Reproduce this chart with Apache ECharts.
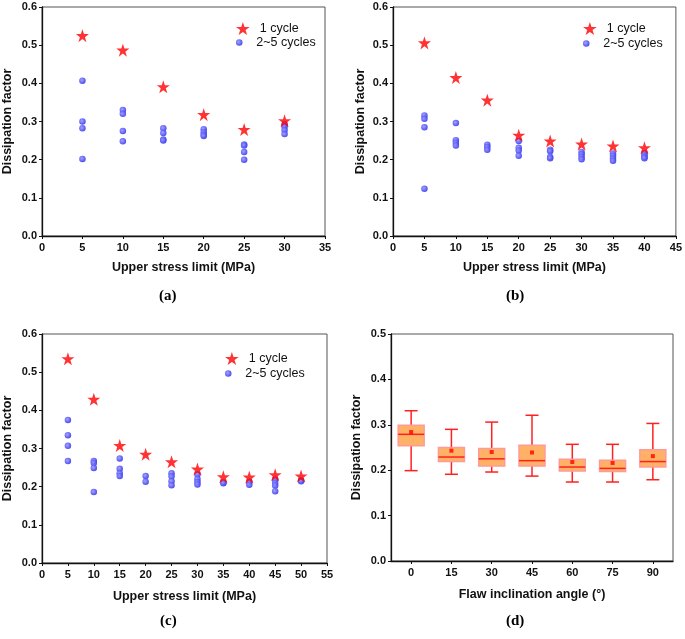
<!DOCTYPE html>
<html><head><meta charset="utf-8">
<script src="https://cdn.jsdelivr.net/npm/echarts@6/dist/echarts.min.js"></script>
<style>html,body{margin:0;padding:0;background:#fff}#c{width:685px;height:639px}</style>
</head><body><div id="c"></div>
<script>
// ---- Panel (a) ----
const aStarX = [5, 10, 15, 20, 25, 30];
const aStarY = [0.525, 0.487, 0.391, 0.318, 0.279, 0.302];
const aDotX = [5,5,5,5, 10,10,10,10, 15,15,15,15, 20,20,20,20, 25,25,25,25, 30,30,30,30];
const aDotY = [0.407,0.300,0.282,0.202, 0.330,0.320,0.275,0.248, 0.282,0.270,0.253,0.250, 0.280,0.272,0.265,0.262, 0.240,0.237,0.220,0.200, 0.293,0.287,0.278,0.267];
// ---- Panel (b) ----
const bStarX = [5, 10, 15, 20, 25, 30, 35, 40];
const bStarY = [0.506, 0.415, 0.356, 0.264, 0.249, 0.241, 0.236, 0.231];
const bDotX = [5,5,5,5, 10,10,10,10, 15,15,15, 20,20,20,20, 25,25,25,25, 30,30,30,30, 35,35,35,35, 40,40,40,40];
const bDotY = [0.316,0.307,0.285,0.124, 0.296,0.251,0.244,0.237, 0.239,0.233,0.226, 0.249,0.231,0.224,0.210, 0.226,0.222,0.207,0.204, 0.220,0.214,0.207,0.201, 0.216,0.210,0.203,0.197, 0.217,0.211,0.207,0.204];
// ---- Panel (c) ----
const cStarX = [5, 10, 15, 20, 25, 30, 35, 40, 45, 50];
const cStarY = [0.535, 0.429, 0.308, 0.285, 0.265, 0.246, 0.226, 0.225, 0.231, 0.228];
const cDotX = [5,5,5,5, 10,10,10,10, 15,15,15,15, 20,20, 25,25,25,25, 30,30,30,30, 35,35, 40,40, 45,45,45,45, 50,50];
const cDotY = [0.375,0.335,0.307,0.267, 0.267,0.262,0.249,0.186, 0.274,0.247,0.235,0.228, 0.228,0.213, 0.235,0.227,0.214,0.204, 0.232,0.220,0.212,0.206, 0.211,0.209, 0.213,0.205, 0.219,0.210,0.203,0.188, 0.216,0.214];
// ---- Panel (d) box plot ----
const dCats = ['0', '15', '30', '45', '60', '75', '90'];
const dMin    = [0.199, 0.191, 0.196, 0.187, 0.174, 0.174, 0.179];
const dQ1     = [0.254, 0.219, 0.209, 0.209, 0.198, 0.197, 0.207];
const dMedian = [0.279, 0.229, 0.225, 0.221, 0.207, 0.204, 0.219];
const dQ3     = [0.299, 0.250, 0.248, 0.255, 0.224, 0.222, 0.245];
const dMax    = [0.331, 0.290, 0.306, 0.321, 0.257, 0.257, 0.303];
const dMean   = [0.284, 0.243, 0.240, 0.239, 0.218, 0.216, 0.231];

const yTicksAC = { min: 0, max: 0.6, interval: 0.1 };
const yTicksD = { min: 0, max: 0.5, interval: 0.1 };

const STAR = 'path://M50,0 L61.8,35.4 L99,35.4 L69,57.3 L80.4,92.7 L50,70.8 L19.6,92.7 L31,57.3 L1,35.4 L38.2,35.4 Z';
const tickFont = { fontFamily: 'Liberation Sans', fontWeight: 'bold', fontSize: 11, color: '#111' };
const titleFont = { fontFamily: 'Liberation Sans', fontWeight: 'bold', fontSize: 12.5, color: '#111' };
const dotColor = { type: 'radial', x: 0.4, y: 0.4, r: 0.6, colorStops: [{offset: 0, color: '#9a9aff'}, {offset: 1, color: '#3b3bf0'}] };

function zip(xs, ys) { return xs.map((x, i) => [x, ys[i]]); }

const grids = [
  { left: 41, top: 7, width: 284, height: 229 },
  { left: 393, top: 7, width: 284, height: 229 },
  { left: 41, top: 334, width: 286, height: 229 },
  { left: 391, top: 334, width: 282, height: 227 }
].map(g => Object.assign(g, { show: true, borderColor: '#555', borderWidth: 1, containLabel: false }));

function yAxis(i, t, gap) {
  return {
    gridIndex: i, type: 'value', min: t.min, max: t.max, interval: t.interval,
    name: 'Dissipation factor', nameLocation: 'middle', nameGap: gap, nameTextStyle: titleFont,
    axisLine: { show: true, lineStyle: { color: '#111', width: 1.3 } },
    axisTick: { show: true, inside: false, length: 3, lineStyle: { color: '#111' } },
    axisLabel: Object.assign({ margin: 5, formatter: v => v.toFixed(1) }, tickFont),
    splitLine: { show: false }
  };
}
function xAxisVal(i, max, gap) {
  return {
    gridIndex: i, type: 'value', min: 0, max: max, interval: 5,
    name: 'Upper stress limit (MPa)', nameLocation: 'middle', nameGap: gap, nameTextStyle: titleFont,
    axisLine: { show: true, onZero: false, lineStyle: { color: '#111', width: 1.3 } },
    axisTick: { show: true, inside: false, length: 3, lineStyle: { color: '#111' } },
    axisLabel: Object.assign({ margin: 6 }, tickFont),
    splitLine: { show: false }
  };
}

function scatterPair(i, sx, sy, dx, dy) {
  return [
    { name: '2~5 cycles', type: 'scatter', xAxisIndex: i, yAxisIndex: i, data: zip(dx, dy), symbol: 'circle', symbolSize: 6.5, itemStyle: { color: dotColor, opacity: 0.9 }, z: 2 },
    { name: '1 cycle', type: 'scatter', xAxisIndex: i, yAxisIndex: i, data: zip(sx, sy), symbol: STAR, symbolSize: 13, itemStyle: { color: '#ff0000' }, z: 3 }
  ];
}

const boxData = dCats.map((c, i) => [i, dMin[i], dQ1[i], dMedian[i], dQ3[i], dMax[i]]);

const boxSeries = {
  type: 'custom', xAxisIndex: 3, yAxisIndex: 3, data: boxData,
  encode: { x: 0, y: [1, 2, 3, 4, 5] },
  renderItem: function (params, api) {
    const i = api.value(0);
    const pMin = api.coord([i, api.value(1)]);
    const pQ1 = api.coord([i, api.value(2)]);
    const pMed = api.coord([i, api.value(3)]);
    const pQ3 = api.coord([i, api.value(4)]);
    const pMax = api.coord([i, api.value(5)]);
    const x = pMed[0];
    const bw = 26, cw = 13;
    const red = '#ff2020';
    return {
      type: 'group', children: [
        { type: 'line', shape: { x1: x, y1: pMax[1], x2: x, y2: pQ3[1] }, style: { stroke: red, lineWidth: 1.5 } },
        { type: 'line', shape: { x1: x, y1: pQ1[1], x2: x, y2: pMin[1] }, style: { stroke: red, lineWidth: 1.5 } },
        { type: 'line', shape: { x1: x - cw / 2, y1: pMax[1], x2: x + cw / 2, y2: pMax[1] }, style: { stroke: red, lineWidth: 1.5 } },
        { type: 'line', shape: { x1: x - cw / 2, y1: pMin[1], x2: x + cw / 2, y2: pMin[1] }, style: { stroke: red, lineWidth: 1.5 } },
        { type: 'rect', shape: { x: x - bw / 2, y: pQ3[1], width: bw, height: pQ1[1] - pQ3[1] }, style: { fill: '#ffb266', stroke: '#ff9a9a', lineWidth: 1.5 } },
        { type: 'line', shape: { x1: x - bw / 2, y1: pMed[1], x2: x + bw / 2, y2: pMed[1] }, style: { stroke: red, lineWidth: 1.5 } }
      ]
    };
  },
  z: 2
};
const meanSeries = {
  type: 'scatter', xAxisIndex: 3, yAxisIndex: 3, data: dMean.map((m, i) => [i, m]),
  symbol: 'rect', symbolSize: 4, itemStyle: { color: '#ff0000' }, z: 5, silent: true
};

const legendText = { fontFamily: 'Liberation Sans', fontSize: 12.5, color: '#111' };
function legendPair(left, starTop, dotTop) {
  return [
    { left: left, top: starTop, itemWidth: 24, itemHeight: 13, selectedMode: false,
      data: [{ name: '1 cycle', icon: STAR }], textStyle: legendText },
    { left: left, top: dotTop, itemWidth: 24, itemHeight: 6.5, selectedMode: false,
      data: [{ name: '2~5 cycles', icon: 'circle' }], textStyle: legendText }
  ];
}

const option = {
  animation: false,
  grid: grids,
  xAxis: [
    xAxisVal(0, 35, 25),
    xAxisVal(1, 45, 25),
    xAxisVal(2, 55, 27),
    {
      gridIndex: 3, type: 'category', data: dCats, boundaryGap: true,
      name: 'Flaw inclination angle (°)', nameLocation: 'middle', nameGap: 27, nameTextStyle: titleFont,
      axisLine: { show: true, lineStyle: { color: '#111', width: 1.3 } },
      axisTick: { show: true, alignWithLabel: true, inside: false, length: 3, lineStyle: { color: '#111' } },
      axisLabel: Object.assign({ margin: 6 }, tickFont),
      splitLine: { show: false }
    }
  ],
  yAxis: [yAxis(0, yTicksAC, 28), yAxis(1, yTicksAC, 26), yAxis(2, yTicksAC, 28), yAxis(3, yTicksD, 28)],
  legend: [].concat(
    legendPair(231, 17, 31),
    legendPair(578, 17, 32),
    legendPair(220, 347, 362)
  ),
  graphic: [
    { type: 'text', left: 159, top: 289, style: { text: '(a)', font: 'bold 15px "Liberation Serif"', fill: '#000' } },
    { type: 'text', left: 506, top: 289, style: { text: '(b)', font: 'bold 15px "Liberation Serif"', fill: '#000' } },
    { type: 'text', left: 160, top: 614, style: { text: '(c)', font: 'bold 15px "Liberation Serif"', fill: '#000' } },
    { type: 'text', left: 506, top: 614, style: { text: '(d)', font: 'bold 15px "Liberation Serif"', fill: '#000' } }
  ],
  series: [].concat(
    scatterPair(0, aStarX, aStarY, aDotX, aDotY),
    scatterPair(1, bStarX, bStarY, bDotX, bDotY),
    scatterPair(2, cStarX, cStarY, cDotX, cDotY),
    [boxSeries, meanSeries]
  )
};
const chart = echarts.init(document.getElementById('c'), null, { renderer: 'canvas' });
chart.setOption(option);
</script></body></html>
